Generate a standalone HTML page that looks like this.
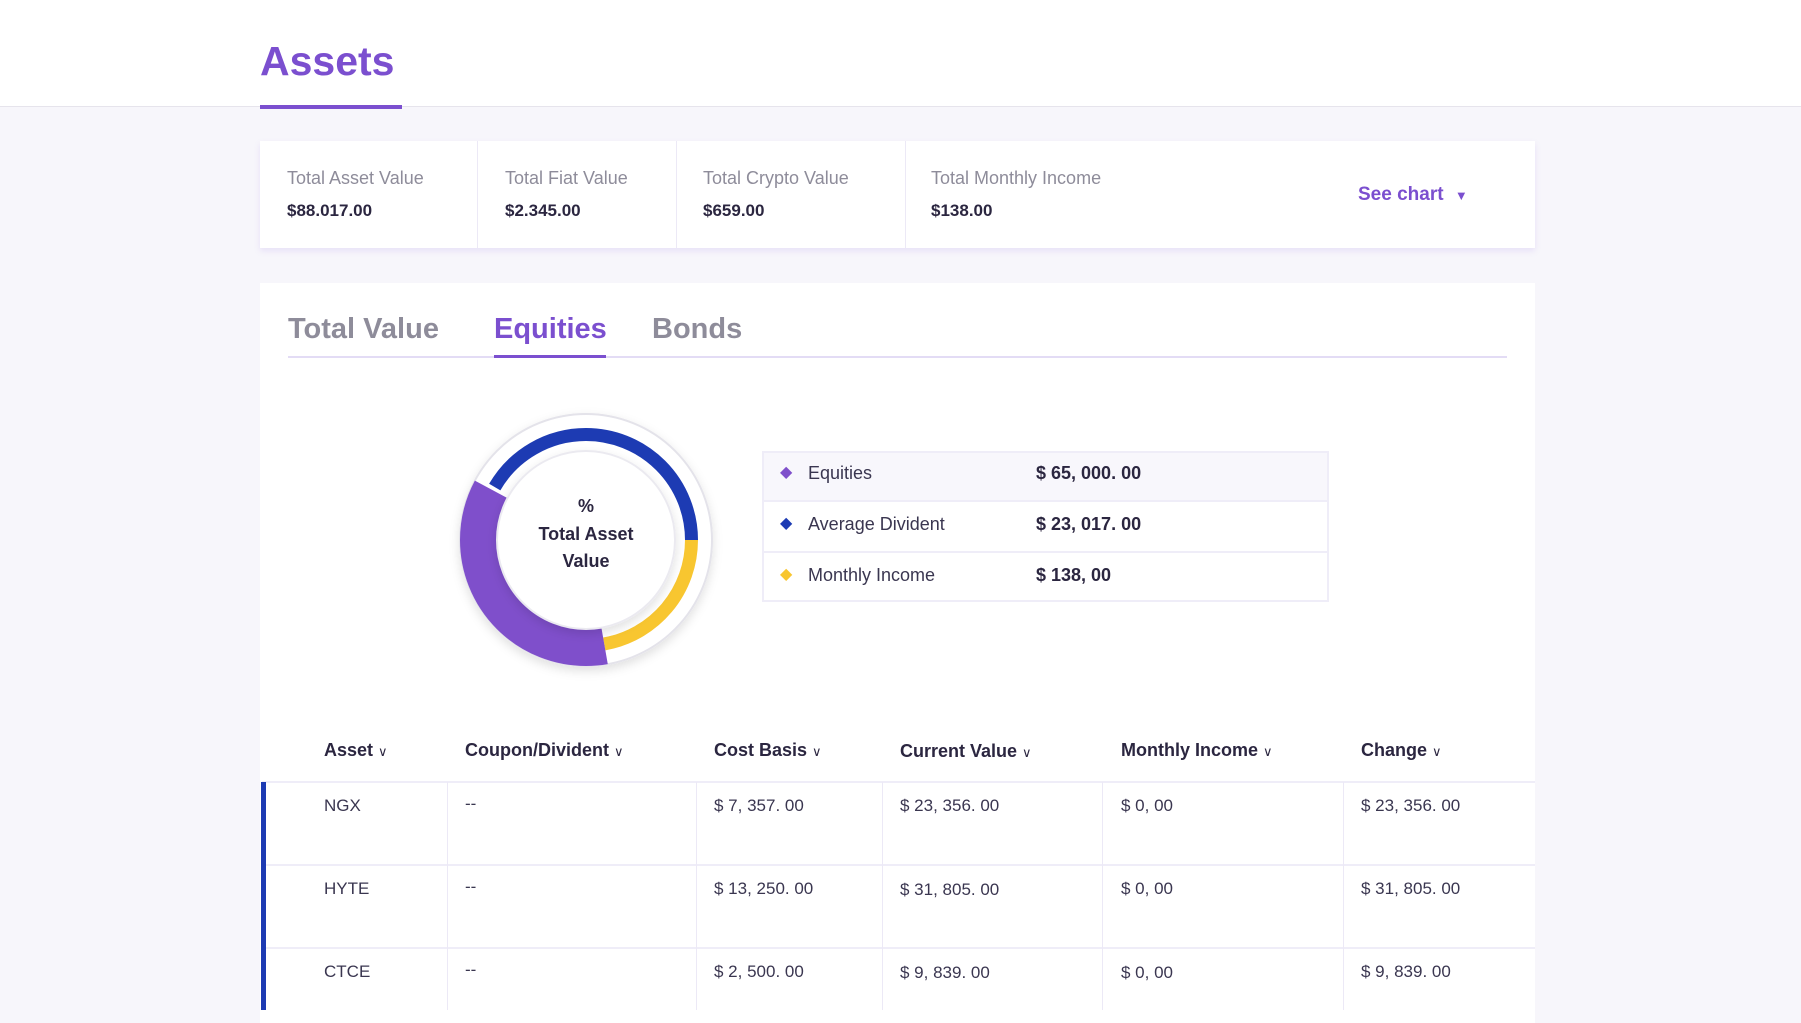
<!DOCTYPE html>
<html><head><meta charset="utf-8"><style>
*{margin:0;padding:0;box-sizing:border-box}
body{width:1801px;height:1010px;background:#f7f6fb;font-family:"Liberation Sans",sans-serif;position:relative;overflow:hidden;color:#2b2640}
.a{position:absolute;white-space:nowrap}
.lbl{font-size:18px;color:#8e8c9a}
.val{font-size:17px;font-weight:bold;color:#2b2640}
.th{font-size:18px;font-weight:bold;color:#2b2640}
.td{font-size:17px;color:#3a3650}
.vl{position:absolute;width:1px;background:#ece9f6}
.hl{position:absolute;height:2px;background:#efedf8}
</style></head><body>
<div class="a" style="left:0;top:0;width:1801px;height:107px;background:#fff;border-bottom:1px solid #e6e4ec"></div>
<div class="a" style="left:260px;top:38px;font-size:41px;font-weight:bold;color:#7b4fcf">Assets</div>
<div class="a" style="left:260px;top:105px;width:142px;height:4px;background:#7b4fcf"></div>

<div class="a" style="left:260px;top:141px;width:1275px;height:107px;background:#fff;box-shadow:0 3px 6px rgba(150,110,230,.15)"></div>
<div class="vl" style="left:477px;top:141px;height:107px"></div>
<div class="vl" style="left:676px;top:141px;height:107px"></div>
<div class="vl" style="left:905px;top:141px;height:107px"></div>
<div class="a lbl" style="left:287px;top:168px">Total Asset Value</div>
<div class="a val" style="left:287px;top:201px">$88.017.00</div>
<div class="a lbl" style="left:505px;top:168px">Total Fiat Value</div>
<div class="a val" style="left:505px;top:201px">$2.345.00</div>
<div class="a lbl" style="left:703px;top:168px">Total Crypto Value</div>
<div class="a val" style="left:703px;top:201px">$659.00</div>
<div class="a lbl" style="left:931px;top:168px">Total Monthly Income</div>
<div class="a val" style="left:931px;top:201px">$138.00</div>
<div class="a" style="left:1358px;top:184px;font-size:19px;font-weight:bold;color:#7b4fcf">See chart <span style="font-size:13px;margin-left:6px">▼</span></div>

<div class="a" style="left:260px;top:283px;width:1275px;height:740px;background:#fff"></div>
<div class="a" style="left:288px;top:313px;font-size:29px;font-weight:bold;color:#8e8c9a">Total Value</div>
<div class="a" style="left:494px;top:313px;font-size:29px;font-weight:bold;color:#7b4fcf">Equities</div>
<div class="a" style="left:652px;top:313px;font-size:29px;font-weight:bold;color:#8e8c9a">Bonds</div>
<div class="a" style="left:288px;top:356px;width:1219px;height:2px;background:#e3dcf5"></div>
<div class="a" style="left:494px;top:355px;width:112px;height:3px;background:#7b4fcf"></div>

<svg class="a" style="left:0;top:0" width="1801" height="1010">
<defs><filter id="sh" x="-30%" y="-30%" width="160%" height="160%"><feDropShadow dx="0" dy="4" stdDeviation="5" flood-color="#000" flood-opacity="0.12"/></filter></defs>
<circle cx="586" cy="540" r="126" fill="#fff" stroke="#e4e3ea" stroke-width="2" filter="url(#sh)"/>
<g transform="rotate(-90 586 540)">
<circle cx="586" cy="540" r="105.5" fill="none" stroke="#1d3bb3" stroke-width="13" stroke-dasharray="165.7 386.7 110.5 0"/>
<circle cx="586" cy="540" r="105.5" fill="none" stroke="#f8c630" stroke-width="13" stroke-dasharray="147.3 1000" stroke-dashoffset="-165.7"/>
<circle cx="586" cy="540" r="107.5" fill="none" stroke="#7f4fcb" stroke-width="37" stroke-dasharray="240.2 1000" stroke-dashoffset="-318.9"/>
</g>
<circle cx="586" cy="540" r="89" fill="#fff" stroke="#ebeaf0" stroke-width="2" filter="url(#sh)"/>
<text x="586" y="512" text-anchor="middle" font-family="Liberation Sans" font-weight="bold" font-size="18" fill="#2b2640">%</text>
<text x="586" y="540" text-anchor="middle" font-family="Liberation Sans" font-weight="bold" font-size="18" fill="#2b2640">Total Asset</text>
<text x="586" y="567" text-anchor="middle" font-family="Liberation Sans" font-weight="bold" font-size="18" fill="#2b2640">Value</text>
</svg>

<div class="a" style="left:762px;top:451px;width:567px;height:151px;border:2px solid #efedf8"></div>
<div class="a" style="left:764px;top:453px;width:563px;height:48px;background:#f8f7fc"></div>
<div class="hl" style="left:762px;top:500px;width:567px"></div>
<div class="hl" style="left:762px;top:551px;width:567px"></div>
<div class="a" style="left:780px;top:462px;font-size:16px;color:#7f4fcb">◆</div>
<div class="a" style="left:808px;top:463px;font-size:18px;color:#3a3650">Equities</div>
<div class="a" style="left:1036px;top:463px;font-size:18px;font-weight:bold">$ 65, 000. 00</div>
<div class="a" style="left:780px;top:513px;font-size:16px;color:#1d3bb3">◆</div>
<div class="a" style="left:808px;top:514px;font-size:18px;color:#3a3650">Average Divident</div>
<div class="a" style="left:1036px;top:514px;font-size:18px;font-weight:bold">$ 23, 017. 00</div>
<div class="a" style="left:780px;top:564px;font-size:16px;color:#f8c630">◆</div>
<div class="a" style="left:808px;top:565px;font-size:18px;color:#3a3650">Monthly Income</div>
<div class="a" style="left:1036px;top:565px;font-size:18px;font-weight:bold">$ 138, 00</div>

<div class="a th" style="left:324px;top:740px">Asset <span style="font-weight:normal;font-size:13px">∨</span></div>
<div class="a th" style="left:465px;top:740px">Coupon/Divident <span style="font-weight:normal;font-size:13px">∨</span></div>
<div class="a th" style="left:714px;top:740px">Cost Basis <span style="font-weight:normal;font-size:13px">∨</span></div>
<div class="a th" style="left:900px;top:741px">Current Value <span style="font-weight:normal;font-size:13px">∨</span></div>
<div class="a th" style="left:1121px;top:740px">Monthly Income <span style="font-weight:normal;font-size:13px">∨</span></div>
<div class="a th" style="left:1361px;top:740px">Change <span style="font-weight:normal;font-size:13px">∨</span></div>
<div class="hl" style="left:262px;top:781px;width:1273px"></div>
<div class="hl" style="left:262px;top:864px;width:1273px"></div>
<div class="hl" style="left:262px;top:947px;width:1273px"></div>
<div class="vl" style="left:447px;top:782px;height:228px"></div>
<div class="vl" style="left:696px;top:782px;height:228px"></div>
<div class="vl" style="left:882px;top:782px;height:228px"></div>
<div class="vl" style="left:1102px;top:782px;height:228px"></div>
<div class="vl" style="left:1343px;top:782px;height:228px"></div>
<div class="a" style="left:261px;top:782px;width:5px;height:228px;background:#1d3bb3"></div>

<div class="a td" style="left:324px;top:796px">NGX</div>
<div class="a td" style="left:465px;top:794px">--</div>
<div class="a td" style="left:714px;top:796px">$ 7, 357. 00</div>
<div class="a td" style="left:900px;top:796px">$ 23, 356. 00</div>
<div class="a td" style="left:1121px;top:796px">$ 0, 00</div>
<div class="a td" style="left:1361px;top:796px">$ 23, 356. 00</div>

<div class="a td" style="left:324px;top:879px">HYTE</div>
<div class="a td" style="left:465px;top:877px">--</div>
<div class="a td" style="left:714px;top:879px">$ 13, 250. 00</div>
<div class="a td" style="left:900px;top:880px">$ 31, 805. 00</div>
<div class="a td" style="left:1121px;top:879px">$ 0, 00</div>
<div class="a td" style="left:1361px;top:879px">$ 31, 805. 00</div>

<div class="a td" style="left:324px;top:962px">CTCE</div>
<div class="a td" style="left:465px;top:960px">--</div>
<div class="a td" style="left:714px;top:962px">$ 2, 500. 00</div>
<div class="a td" style="left:900px;top:963px">$ 9, 839. 00</div>
<div class="a td" style="left:1121px;top:963px">$ 0, 00</div>
<div class="a td" style="left:1361px;top:962px">$ 9, 839. 00</div>
</body></html>
